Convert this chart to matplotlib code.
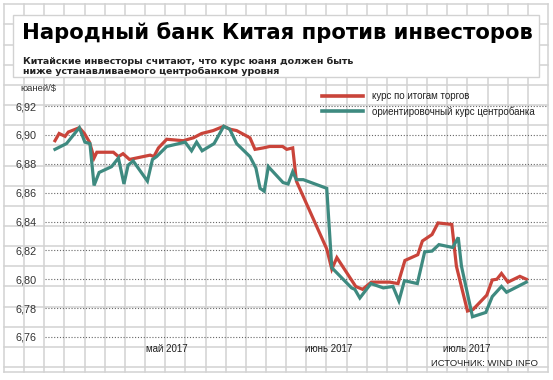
import matplotlib
matplotlib.use("Agg")
import matplotlib.pyplot as plt
from matplotlib.patches import Rectangle

# days counted from the first point (approx. mid-April 2017)
red_days = [0, 0.9, 2.2, 2.9, 5.3, 6.4, 7.5, 8.5, 9.1, 12.7, 13.8, 14.8, 16.2, 20.7,
            21.5, 22.5, 24.3, 27.9, 30.1, 31.9, 34.4, 36.7, 38.0, 39.5, 42.4, 43.5,
            45.3, 46.7, 49.5, 50.4, 51.7, 52.5, 59.1, 60.2, 61.3, 65.4, 66.9, 68.8,
            72.8, 74.6, 76.1, 78.9, 79.9, 82.0, 83.3, 86.3, 87.3, 89.7, 90.9, 93.9,
            95.1, 96.1, 97.1, 98.5, 101.1, 102.5]
red_vals = [6.896, 6.901, 6.899, 6.902, 6.905, 6.901, 6.895, 6.884, 6.888, 6.888,
            6.885, 6.887, 6.883, 6.886, 6.885, 6.891, 6.897, 6.896, 6.898, 6.901,
            6.903, 6.906, 6.904, 6.903, 6.898, 6.890, 6.891, 6.892, 6.892, 6.890,
            6.891, 6.868, 6.821, 6.807, 6.815, 6.795, 6.793, 6.798, 6.798, 6.797,
            6.813, 6.817, 6.8265, 6.831, 6.839, 6.838, 6.809, 6.778, 6.779, 6.789,
            6.7995, 6.800, 6.804, 6.798, 6.802, 6.800]

teal_days = [0, 2.5, 5.3, 6.5, 7.6, 8.5, 9.6, 12.3, 13.8, 15.0, 15.9, 17.0, 20.1,
             21.2, 22.1, 24.3, 28.3, 29.7, 30.8, 32.0, 34.6, 36.7, 38.0, 39.5, 42.4,
             43.7, 44.6, 45.5, 46.4, 49.6, 50.7, 51.7, 52.5, 54.0, 59.1, 60.2, 64.5,
             65.2, 66.3, 68.7, 71.4, 73.5, 74.8, 76.0, 78.8, 80.4, 82.0, 83.5, 86.5,
             87.7, 88.4, 90.8, 93.7, 95.1, 97.1, 98.2, 102.5]
teal_vals = [6.890, 6.894, 6.905, 6.895, 6.894, 6.865, 6.874, 6.878, 6.884, 6.866,
             6.879, 6.882, 6.868, 6.883, 6.885, 6.892, 6.895, 6.889, 6.895, 6.889,
             6.894, 6.906, 6.904, 6.894, 6.885, 6.877, 6.863, 6.861, 6.878, 6.867,
             6.866, 6.8745, 6.869, 6.869, 6.863, 6.808, 6.794, 6.793, 6.787, 6.797,
             6.794, 6.795, 6.785, 6.799, 6.797, 6.819, 6.8195, 6.824, 6.822, 6.829,
             6.809, 6.774, 6.777, 6.788, 6.795, 6.791, 6.798]

y_ticks = [6.76, 6.78, 6.80, 6.82, 6.84, 6.86, 6.88, 6.90, 6.92]
month_pos = [24.3, 59.6, 89.6]
month_labels = ["май 2017", "июнь 2017", "июль 2017"]

red = "#c9443a"
teal = "#3e8a80"
narrow = ["Liberation Sans", "DejaVu Sans"]

W, H = 553, 380
fig = plt.figure(figsize=(W / 100, H / 100), dpi=100)

# фон в клетку (координаты в пикселях)
bg = fig.add_axes([0, 0, 1, 1])
bg.set_xlim(0, W)
bg.set_ylim(H, 0)
bg.axis("off")
step = 20.15
for k in range(28):
    x = 4 + k * step
    bg.plot([x, x], [4.3, 372], color="#d2d2d2", lw=1.1, zorder=0)
for k in range(19):
    y = 367 - k * step
    bg.plot([4, 548], [y, y], color="#d2d2d2", lw=1.1, zorder=0)
bg.plot([4, 548], [372, 372], color="#d2d2d2", lw=1.1, zorder=0)
bg.add_patch(Rectangle((13, 15), 526, 62, facecolor="white", edgecolor="#d2d2d2",
                       lw=1.0, zorder=1))

fig.text(22 / W, 1 - 39 / H, "Народный банк Китая против инвесторов",
         fontsize=15.2, fontweight="bold", va="baseline", ha="left")
fig.text(23 / W, 1 - 63.5 / H, "Китайские инвесторы считают, что курс юаня должен быть",
         fontsize=6.8, fontweight="bold", va="baseline", ha="left", color="#222222")
fig.text(23 / W, 1 - 74.5 / H, "ниже устанавливаемого центробанком уровня",
         fontsize=6.8, fontweight="bold", va="baseline", ha="left", color="#222222")
fig.text(20 / W, 1 - 88 / H, "юаней/$", fontsize=6.8, va="center", ha="left",
         color="#333333", family=narrow)
fig.text(538 / W, 1 - 364 / H, "ИСТОЧНИК: WIND INFO", fontsize=6.8, va="center",
         ha="right", color="#222222", family=narrow)

ax = fig.add_axes([45 / W, 40 / H, 502 / W, 240 / H])
ax.patch.set_alpha(0)
ax.plot(red_days, red_vals, color=red, lw=2.3, label="курс по итогам торгов",
        solid_joinstyle="miter", zorder=3)
ax.plot(teal_days, teal_vals, color=teal, lw=2.3,
        label="ориентировочный курс центробанка", solid_joinstyle="miter", zorder=3)

ax.set_xlim(-2.17, 107.0)
ax.set_ylim(6.7579, 6.9242)
ax.set_yticks(y_ticks)
ax.set_yticklabels([f"{v:.2f}".replace(".", ",") for v in y_ticks])
ax.set_xticks(month_pos)
ax.set_xticklabels(month_labels)
ax.tick_params(axis="y", length=0, pad=6, labelsize=7.8, labelcolor="#333333")
ax.tick_params(axis="x", length=0, pad=3, labelsize=7, labelcolor="#222222")
for lab in ax.get_xticklabels() + ax.get_yticklabels():
    lab.set_family(narrow)
ax.grid(axis="y", color="#666666", lw=0.8, linestyle=(0, (1, 1.6)))
for s in ax.spines.values():
    s.set_visible(False)

leg = ax.legend(loc="upper left", bbox_to_anchor=(322 / W, 1 - 91.4 / H),
                bbox_transform=fig.transFigure, frameon=False, fontsize=7,
                handlelength=4.2, handletextpad=0.9, labelspacing=0.48,
                borderpad=0, borderaxespad=0)
for t in leg.get_texts():
    t.set_family(narrow)
    t.set_color("#222222")
for h in leg.get_lines():
    h.set_linewidth(2.6)

fig.savefig("out.png", dpi=100)
